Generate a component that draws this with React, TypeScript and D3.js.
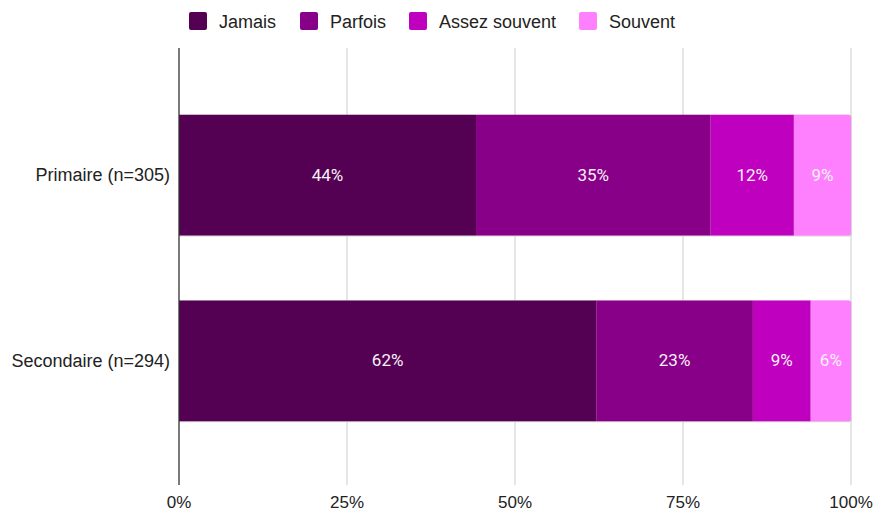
import React from "react";
import * as d3 from "d3";

const categories = ["Primaire (n=305)", "Secondaire (n=294)"];
const seriesNames = ["Jamais", "Parfois", "Assez souvent", "Souvent"];
const colors = ["#540053", "#880088", "#bf00bf", "#ff80ff"];
const jamais = [44.2, 62.1];
const parfois = [34.9, 23.3];
const assezSouvent = [12.4, 8.6];
const souvent = [8.5, 6.0];
const ticks = [0, 25, 50, 75, 100];

const W = 877;
const H = 511;
const margin = { left: 179, right: 26, top: 48, bottom: 26 };
const font = "Liberation Sans, Arial, sans-serif";

export default function App() {
  const series = [jamais, parfois, assezSouvent, souvent];
  const x = d3.scaleLinear().domain([0, 100]).range([margin.left, W - margin.right]);
  const y = d3
    .scaleBand()
    .domain(categories)
    .range([48, 488])
    .paddingInner(0.35)
    .paddingOuter(0.36);

  const rows = categories.map((c, i) => {
    const stack = d3.cumsum(series.map((s) => s[i]));
    return series.map((s, k) => ({ k, v: s[i], x0: k === 0 ? 0 : stack[k - 1], x1: stack[k] }));
  });

  const legendItems = [
    { name: seriesNames[0], sx: 189, tx: 219 },
    { name: seriesNames[1], sx: 300, tx: 330 },
    { name: seriesNames[2], sx: 409, tx: 439 },
    { name: seriesNames[3], sx: 579, tx: 609 },
  ];

  const r = 2.5;
  const segPath = (x0: number, x1: number, y0: number, h: number, last: boolean) => {
    if (!last) return `M${x0},${y0}H${x1}V${y0 + h}H${x0}Z`;
    return `M${x0},${y0}H${x1 - r}Q${x1},${y0} ${x1},${y0 + r}V${y0 + h - r}Q${x1},${y0 + h} ${x1 - r},${y0 + h}H${x0}Z`;
  };

  return (
    <svg width={W} height={H} style={{ position: "absolute", left: 0, top: 0, background: "#fff" }}>
      {legendItems.map((d, i) => (
        <g key={d.name}>
          <rect x={d.sx} y={12} width={18} height={18} rx={2} fill={colors[i]} />
          <text x={d.tx} y={27.5} fontFamily={font} fontSize={18} fill="#222">
            {d.name}
          </text>
        </g>
      ))}
      {ticks.map((t) => (
        <g key={t}>
          {t !== 0 && (
            <line x1={x(t)} x2={x(t)} y1={margin.top} y2={H - margin.bottom} stroke="#cccccc" strokeWidth={1} />
          )}
          <text x={x(t)} y={508} textAnchor="middle" fontFamily={font} fontSize={17} fill="#222">
            {t}%
          </text>
        </g>
      ))}
      {categories.map((c, i) => {
        const y0 = y(c) as number;
        const h = y.bandwidth();
        return (
          <g key={c}>
            <text
              x={margin.left - 9}
              y={y0 + h / 2 + 6}
              textAnchor="end"
              fontFamily={font}
              fontSize={18}
              fill="#222"
            >
              {c}
            </text>
            <path d={segPath(x(0), x(100) + 1, y0, h + 1, true)} fill="#d6d6d6" />
            {rows[i].map((seg) => (
              <path
                key={seg.k}
                d={segPath(x(seg.x0), x(seg.x1), y0, h, seg.k === series.length - 1)}
                fill={colors[seg.k]}
              />
            ))}
            {rows[i].map((seg) => (
              <text
                key={"l" + seg.k}
                x={(x(seg.x0) + x(seg.x1)) / 2}
                y={y0 + h / 2 + 5.5}
                textAnchor="middle"
                fontFamily="Roboto, sans-serif"
                fontSize={17}
                fill="#f7f0f7"
              >
                {Math.round(seg.v)}%
              </text>
            ))}
          </g>
        );
      })}
      <line x1={x(0)} x2={x(0)} y1={margin.top} y2={H - margin.bottom} stroke="#333333" strokeWidth={1.3} />
    </svg>
  );
}
